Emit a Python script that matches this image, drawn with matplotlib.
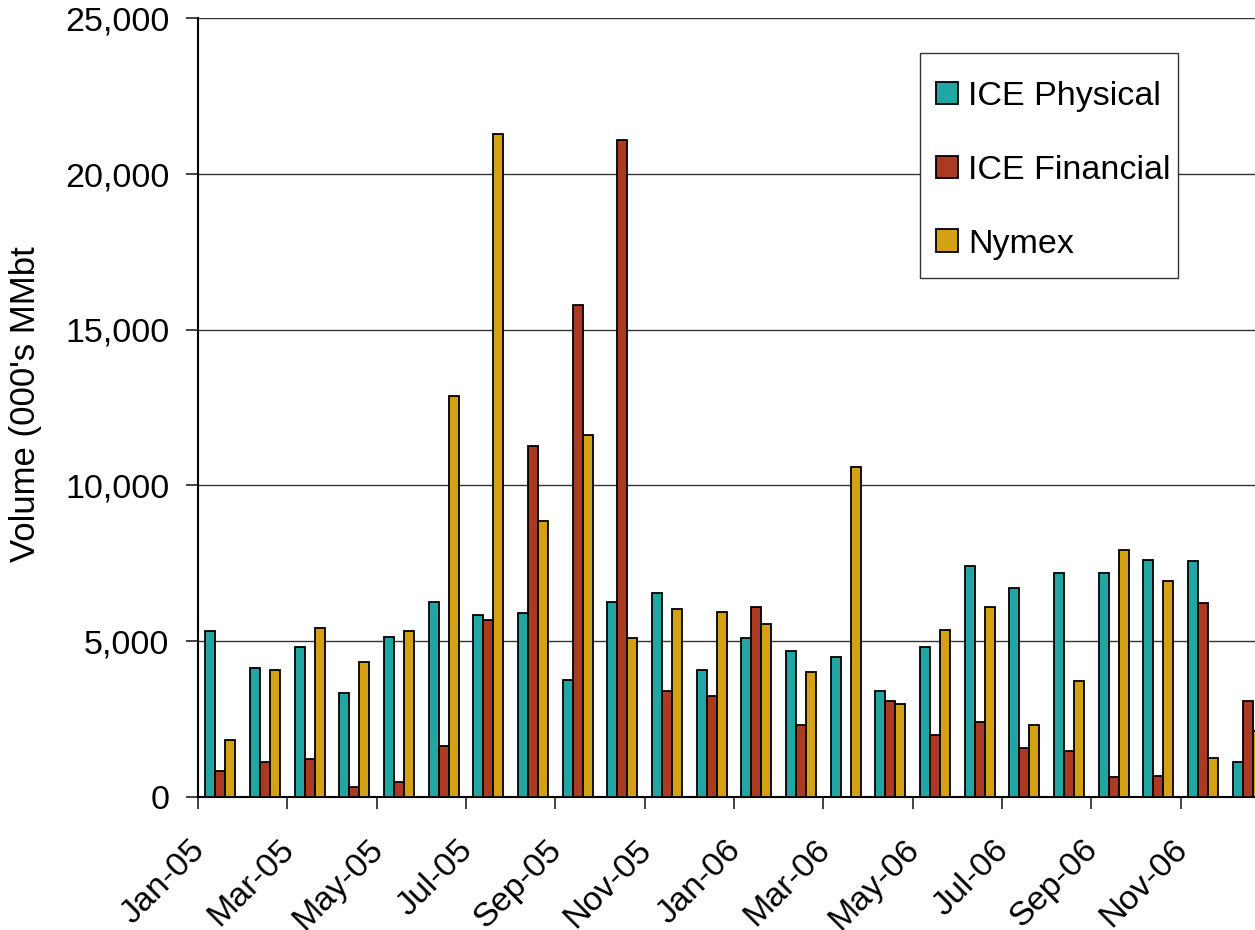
import numpy as np
import matplotlib
matplotlib.use("Agg")
import matplotlib.pyplot as plt
import matplotlib.transforms as mtransforms
from matplotlib.patches import Rectangle
from matplotlib.ticker import FuncFormatter

plt.rcParams['font.family'] = ['Liberation Sans', 'DejaVu Sans']

# monthly volumes, Jan-05 .. Dec-06 (000's MMbtu)
months = ['Jan-05', 'Feb-05', 'Mar-05', 'Apr-05', 'May-05', 'Jun-05',
          'Jul-05', 'Aug-05', 'Sep-05', 'Oct-05', 'Nov-05', 'Dec-05',
          'Jan-06', 'Feb-06', 'Mar-06', 'Apr-06', 'May-06', 'Jun-06',
          'Jul-06', 'Aug-06', 'Sep-06', 'Oct-06', 'Nov-06', 'Dec-06']
ice_physical = [5320, 4120, 4810, 3340, 5120, 6260,
                5840, 5900, 3760, 6250, 6560, 4070,
                5110, 4690, 4490, 3390, 4800, 7400,
                6720, 7190, 7190, 7610, 7560, 1100]
ice_financial = [835, 1100, 1200, 320, 480, 1620,
                 5670, 11280, 15800, 21110, 3390, 3230,
                 6100, 2300, 0, 3070, 1980, 2400,
                 1570, 1480, 630, 670, 6210, 3080]
nymex = [1820, 4070, 5420, 4340, 5320, 12870,
         21300, 8860, 11630, 5110, 6040, 5940,
         5540, 4010, 10580, 2980, 5370, 6100,
         2300, 3710, 7920, 6940, 1250, 2100]

series = [('ICE Physical', ice_physical, '#21A6A4'),
          ('ICE Financial', ice_financial, '#AA3A22'),
          ('Nymex', nymex, '#D4A115')]

W, H = 1255, 930
fig = plt.figure(figsize=(W / 100, H / 100), dpi=100)
# plot area runs past the right edge of the picture, as in the source
ax = fig.add_axes([198 / W, 1 - 796.7 / H, 1072 / W, (796.7 - 18.5) / H])

x = np.arange(len(months))
w = 1 / 4.5
for k, (name, vals, col) in enumerate(series):
    ax.bar(x + 0.5 + (k - 1) * w, vals, width=w, color=col,
           edgecolor='black', linewidth=1.3, label=name, zorder=3)

ax.set_xlim(0, 24)
ax.set_ylim(0, 25000)
ax.set_yticks(np.arange(0, 25001, 5000))
ax.yaxis.set_major_formatter(FuncFormatter(lambda v, p: f'{int(v):,}'))
ax.grid(axis='y', color='#333333', linewidth=1.0, zorder=0)

ax.tick_params(axis='both', direction='out', length=8.6, width=1.2,
               labelsize=24.5, color='#222222')
ax.tick_params(axis='x', pad=30.5)
ax.tick_params(axis='y', pad=12)

ax.set_xticks(np.arange(0, 23, 2))
ax.set_xticklabels(months[::2], rotation=45, ha='right', va='baseline',
                   rotation_mode='anchor')
offset = mtransforms.ScaledTranslation(8 / 100, 0, fig.dpi_scale_trans)
for lab in ax.get_xticklabels():
    lab.set_transform(lab.get_transform() + offset)

for s in ['top', 'right']:
    ax.spines[s].set_visible(False)
for s in ['left', 'bottom']:
    ax.spines[s].set_linewidth(1.5)

ax.set_ylabel("Volume (000's MMbt", fontsize=25)
ax.yaxis.set_label_coords(
    26 / W, 0.505,
    transform=mtransforms.blended_transform_factory(fig.transFigure, ax.transAxes))
ax.yaxis.label.set_va('center')

# legend box drawn by hand so its padding matches the source
fig.patches.append(Rectangle((920 / W, 1 - 278 / H), 258 / W, 225 / H,
                             transform=fig.transFigure, facecolor='white',
                             edgecolor='#333333', linewidth=1.0, zorder=1))
leg = fig.legend(loc='upper left', bbox_to_anchor=(936 / W, 1 - 81 / H),
                 borderaxespad=0, borderpad=0, fontsize=24.5, frameon=False,
                 handlelength=0.65, handleheight=0.65, handletextpad=0.3,
                 labelspacing=1.26)
leg.set_zorder(5)

fig.savefig('out.png', dpi=100)
